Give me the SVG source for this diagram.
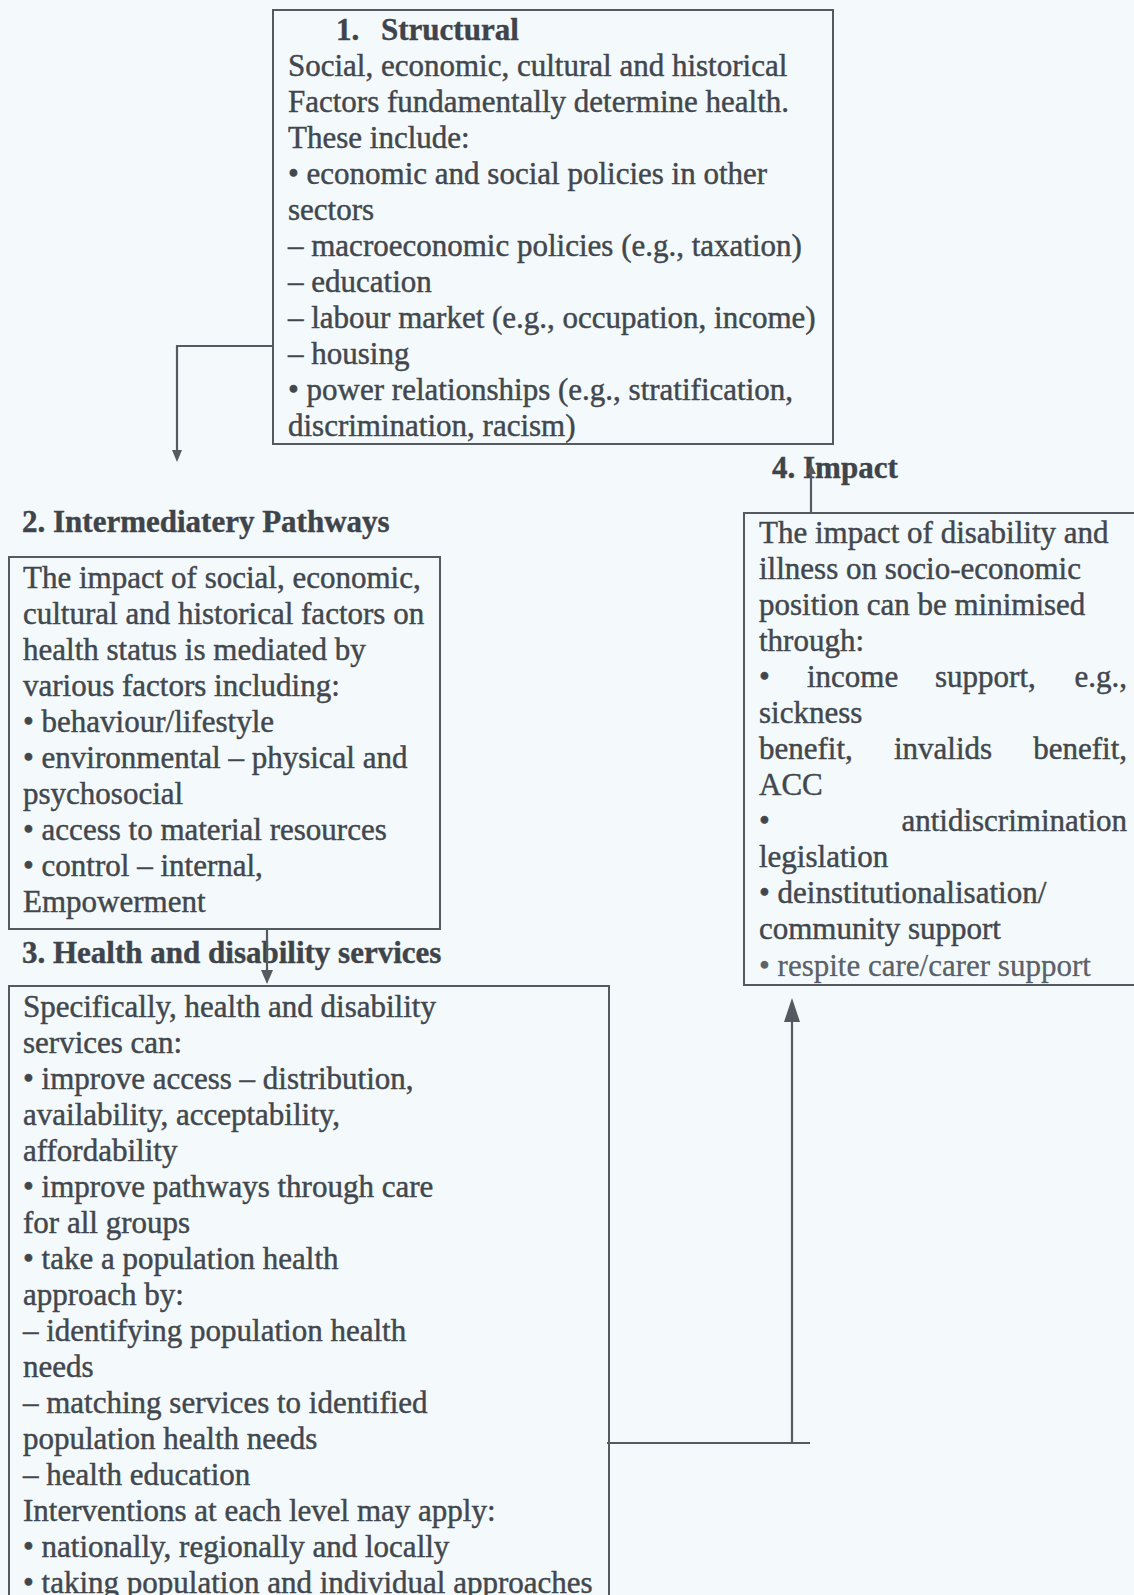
<svg xmlns="http://www.w3.org/2000/svg" width="1134" height="1595" viewBox="0 0 1134 1595">
  <style>
    .box { fill: none; stroke: #555a61; stroke-width: 2; }
    .t { font-family: "Liberation Serif", "Times New Roman", serif; font-size: 31px; fill: #42474e; stroke: #42474e; stroke-width: 0.45; }
    .h { font-family: "Liberation Serif", "Times New Roman", serif; font-size: 31px; font-weight: bold; fill: #3f444b; stroke: #3f444b; stroke-width: 0.4; }
    .end { text-anchor: end; }
    .wire { fill: none; stroke: #555a61; stroke-width: 2.2; }
    .head { fill: #555a61; }
  </style>
  <rect x="0" y="0" width="1134" height="1595" fill="#f4fafb"/>

  <!-- 1. Structural -->
  <g id="node-structural">
    <rect class="box" x="273" y="10" width="560" height="434"/>
    <text class="h" x="336" y="40">1.</text>
    <text class="h" x="381" y="40">Structural</text>
    <text class="t" x="288" y="76">Social, economic, cultural and historical</text>
    <text class="t" x="288" y="112">Factors fundamentally determine health.</text>
    <text class="t" x="288" y="148">These include:</text>
    <text class="t" x="288" y="184">• economic and social policies in other</text>
    <text class="t" x="288" y="220">sectors</text>
    <text class="t" x="288" y="256">– macroeconomic policies (e.g., taxation)</text>
    <text class="t" x="288" y="292">– education</text>
    <text class="t" x="288" y="328">– labour market (e.g., occupation, income)</text>
    <text class="t" x="288" y="364">– housing</text>
    <text class="t" x="288" y="400">• power relationships (e.g., stratification,</text>
    <text class="t" x="288" y="436">discrimination, racism)</text>
  </g>

  <!-- 2. Intermediatery Pathways -->
  <g id="node-pathways">
    <text class="h" x="22" y="532">2. Intermediatery Pathways</text>
    <rect class="box" x="9" y="557" width="431" height="372"/>
    <text class="t" x="23" y="588">The impact of social, economic,</text>
    <text class="t" x="23" y="624">cultural and historical factors on</text>
    <text class="t" x="23" y="660">health status is mediated by</text>
    <text class="t" x="23" y="696">various factors including:</text>
    <text class="t" x="23" y="732">• behaviour/lifestyle</text>
    <text class="t" x="23" y="768">• environmental – physical and</text>
    <text class="t" x="23" y="804">psychosocial</text>
    <text class="t" x="23" y="840">• access to material resources</text>
    <text class="t" x="23" y="876">• control – internal,</text>
    <text class="t" x="23" y="912">Empowerment</text>
  </g>

  <!-- 3. Health and disability services -->
  <g id="node-services">
    <text class="h" x="22" y="963">3. Health and disability services</text>
    <path class="box" d="M9,1600 V986 H609 V1600"/>
    <text class="t" x="23" y="1017">Specifically, health and disability</text>
    <text class="t" x="23" y="1053">services can:</text>
    <text class="t" x="23" y="1089">• improve access – distribution,</text>
    <text class="t" x="23" y="1125">availability, acceptability,</text>
    <text class="t" x="23" y="1161">affordability</text>
    <text class="t" x="23" y="1197">• improve pathways through care</text>
    <text class="t" x="23" y="1233">for all groups</text>
    <text class="t" x="23" y="1269">• take a population health</text>
    <text class="t" x="23" y="1305">approach by:</text>
    <text class="t" x="23" y="1341">– identifying population health</text>
    <text class="t" x="23" y="1377">needs</text>
    <text class="t" x="23" y="1413">– matching services to identified</text>
    <text class="t" x="23" y="1449">population health needs</text>
    <text class="t" x="23" y="1485">– health education</text>
    <text class="t" x="23" y="1521">Interventions at each level may apply:</text>
    <text class="t" x="23" y="1557">• nationally, regionally and locally</text>
    <text class="t" x="23" y="1593">• taking population and individual approaches</text>
  </g>

  <!-- 4. Impact -->
  <g id="node-impact">
    <text class="h" x="772" y="478">4. Impact</text>
    <path class="box" d="M1140,513 H744 V985 H1140"/>
    <text class="t" x="759" y="543">The impact of disability and</text>
    <text class="t" x="759" y="579">illness on socio-economic</text>
    <text class="t" x="759" y="615">position can be minimised</text>
    <text class="t" x="759" y="651">through:</text>
    <text class="t" x="759" y="687">•</text>
    <text class="t" x="807" y="687">income</text>
    <text class="t" x="935" y="687">support,</text>
    <text class="t end" x="1127" y="687">e.g.,</text>
    <text class="t" x="759" y="723">sickness</text>
    <text class="t" x="759" y="759">benefit,</text>
    <text class="t" x="894" y="759">invalids</text>
    <text class="t end" x="1127" y="759">benefit,</text>
    <text class="t" x="759" y="795">ACC</text>
    <text class="t" x="759" y="831">•</text>
    <text class="t end" x="1127" y="831">antidiscrimination</text>
    <text class="t" x="759" y="867">legislation</text>
    <text class="t" x="759" y="903">• deinstitutionalisation/</text>
    <text class="t" x="759" y="939">community support</text>
    <text class="t" x="759" y="976" fill-opacity="0.85" stroke-opacity="0.6">• respite care/carer support</text>
  </g>

  <!-- connectors -->
  <g id="connectors">
    <!-- structural → pathways -->
    <path class="wire" d="M273,346 H177 V452"/>
    <polygon class="head" points="172,450 182,450 177,462"/>
    <!-- pathways → services -->
    <path class="wire" d="M267,929 V972"/>
    <polygon class="head" points="261,970 273,970 267,984"/>
    <!-- services → impact -->
    <path class="wire" d="M607,1443 H810"/>
    <path class="wire" d="M792,1443 V1020"/>
    <polygon class="head" points="784,1022 800,1022 792,998"/>
    <!-- impact box → heading -->
    <path class="wire" d="M811,513 V472"/>
    <polygon class="head" points="806,474 816,474 811,464"/>
  </g>
</svg>
